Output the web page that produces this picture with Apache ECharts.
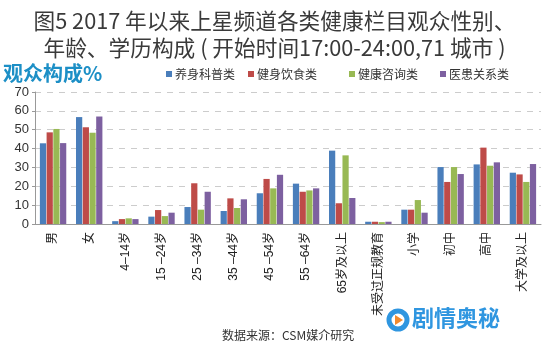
<!DOCTYPE html>
<html>
<head>
<meta charset="utf-8">
<script src="https://cdn.jsdelivr.net/npm/echarts@6/dist/echarts.min.js"></script>
<style>
  html, body { margin: 0; padding: 0; background: #fff; }
  #chart { width: 549px; height: 351px; }
</style>
</head>
<body>
<div id="chart"></div>
<script>
const categories = ['男', '女', '4–14岁', '15 –24岁', '25 –34岁', '35 –44岁', '45 –54岁', '55 –64岁', '65岁及以上', '未受过正规教育', '小学', '初中', '高中', '大学及以上']
const seriesNames = ['养身科普类', '健身饮食类', '健康咨询类', '医患关系类']
const yangshen = [42.8, 56.7, 1.5, 3.9, 9.0, 6.9, 16.3, 21.4, 38.9, 1.2, 7.6, 30.2, 31.6, 27.2]
const jianshen = [48.6, 51.3, 2.6, 7.4, 21.6, 13.6, 23.9, 17.1, 11.0, 1.2, 7.6, 22.3, 40.5, 26.3]
const zixun = [50.4, 48.4, 3.0, 4.2, 7.6, 8.5, 18.9, 17.8, 36.4, 1.0, 12.7, 30.2, 30.9, 22.3]
const yihuan = [42.9, 57.0, 2.6, 6.0, 17.1, 13.1, 26.1, 18.9, 13.8, 1.2, 6.0, 26.5, 32.7, 31.8]
const yTicks = [0, 10, 20, 30, 40, 50, 60, 70]

const colors = ['#4a7ebb', '#be4b48', '#98b954', '#7d60a0']
const values = [yangshen, jianshen, zixun, yihuan]
const legendLeft = [161, 243, 344, 435]

const chart = echarts.init(document.getElementById('chart'))
const option = {
  animation: false,
  color: colors,
  title: [{
    text: '图5 2017 年以来上星频道各类健康栏目观众性别、\n年龄、学历构成 ( 开始时间17:00-24:00,71 城市 )',
    left: 'center',
    top: 2,
    textStyle: {
      fontFamily: 'Noto Sans CJK SC',
      fontSize: 21.7,
      fontWeight: 'normal',
      color: '#3a3a3a',
      lineHeight: 27
    }
  }, {
    text: '观众构成%',
    left: -2,
    top: 58,
    textStyle: {
      fontFamily: 'Noto Sans CJK SC',
      fontSize: 20,
      fontWeight: 'bold',
      color: '#1c8fc6'
    }
  }, {
    text: '数据来源：CSM媒介研究',
    left: 217,
    top: 324,
    textStyle: {
      fontFamily: 'Noto Sans CJK SC',
      fontSize: 12,
      fontWeight: 'normal',
      color: '#333'
    }
  }],
  legend: seriesNames.map((name, i) => ({
    data: [name],
    left: legendLeft[i],
    top: 63,
    icon: 'rect',
    itemWidth: 6,
    itemHeight: 6,
    itemGap: 4,
    textStyle: { fontFamily: 'Noto Sans CJK SC', fontSize: 12, color: '#333', padding: [0, 0, 0, -2] }
  })),
  grid: { left: 35, right: 8, top: 92, bottom: 127 },
  xAxis: {
    type: 'category',
    data: categories,
    axisLine: { lineStyle: { color: '#999' } },
    axisTick: { lineStyle: { color: '#999' }, length: 4 },
    axisLabel: {
      rotate: 90,
      interval: 0,
      margin: 8,
      fontFamily: 'Liberation Sans, Noto Sans CJK SC',
      fontSize: 12,
      color: '#222'
    }
  },
  yAxis: {
    type: 'value',
    min: 0,
    max: 70,
    interval: 10,
    axisLine: { show: true, lineStyle: { color: '#999' } },
    axisTick: { show: true, length: 3, lineStyle: { color: '#999' } },
    axisLabel: {
      margin: 6,
      fontFamily: 'Liberation Sans',
      fontSize: 13,
      color: '#333',
      formatter: v => yTicks.includes(v) ? String(v) : ''
    },
    splitLine: { lineStyle: { color: '#ccc', type: [6, 6] } }
  },
  series: seriesNames.map((name, i) => ({
    name: name,
    type: 'bar',
    data: values[i],
    barGap: '8%',
    barCategoryGap: '27%',
    itemStyle: { color: colors[i] }
  })),
  graphic: [{
    type: 'circle',
    shape: { cx: 398, cy: 320, r: 9 },
    style: { fill: 'none', stroke: '#2f96e0', lineWidth: 5 }
  }, {
    type: 'polygon',
    shape: { points: [[395, 315], [395, 325], [403, 320]] },
    style: { fill: '#f28a2e' }
  }, {
    type: 'text',
    left: 412,
    top: 307,
    style: {
      text: '剧情奥秘',
      font: 'bold 22px "Noto Sans CJK SC"',
      fill: '#2f96e0'
    }
  }]
}
chart.setOption(option)
</script>
</body>
</html>
